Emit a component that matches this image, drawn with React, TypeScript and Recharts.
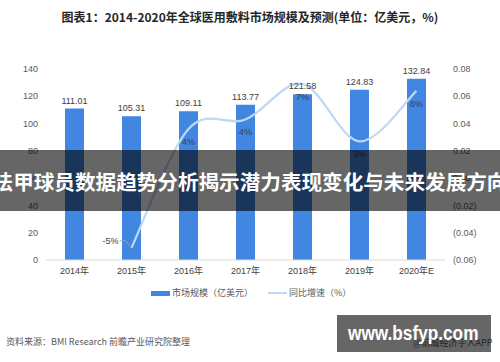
import React from "react";
import { ComposedChart, Bar, Line, XAxis, YAxis, LabelList } from "recharts";

const years = ["2014年", "2015年", "2016年", "2017年", "2018年", "2019年", "2020年E"];
const marketSize = [111.01, 105.31, 109.11, 113.77, 121.58, 124.83, 132.84];
const growth = [null, -0.051, 0.036, 0.043, 0.069, 0.027, 0.064];
const leftTicks = [0, 20, 40, 60, 80, 100, 120, 140];
const rightTicks = [-0.06, -0.04, -0.02, 0, 0.02, 0.04, 0.06, 0.08];

const data = years.map((year, i) => ({ year, size: marketSize[i], growth: growth[i] }));

const font = '"Liberation Sans", "Noto Sans CJK SC", sans-serif';
const cjk = '"Noto Sans CJK SC", "Liberation Sans", sans-serif';

const fmtRight = (v: number) => {
  const r = Math.round(v * 100) / 100;
  if (r < 0) return `(${Math.abs(r).toFixed(2)})`;
  return r.toFixed(2);
};

// Excel-like smoothed line (Catmull-Rom as cubic bezier)
function smoothCurve(context: any) {
  let pts: [number, number][] = [];
  return {
    areaStart() {},
    areaEnd() {},
    lineStart() {
      pts = [];
    },
    lineEnd() {
      const n = pts.length;
      if (!n) return;
      context.moveTo(pts[0][0], pts[0][1]);
      for (let i = 0; i < n - 1; i++) {
        const p0 = pts[Math.max(i - 1, 0)];
        const p1 = pts[i];
        const p2 = pts[i + 1];
        const p3 = pts[Math.min(i + 2, n - 1)];
        context.bezierCurveTo(
          p1[0] + (p2[0] - p0[0]) / 6,
          p1[1] + (p2[1] - p0[1]) / 6,
          p2[0] - (p3[0] - p1[0]) / 6,
          p2[1] - (p3[1] - p1[1]) / 6,
          p2[0],
          p2[1]
        );
      }
    },
    point(x: number, y: number) {
      pts.push([+x, +y]);
    },
  };
}

function GrowthLabel(props: any) {
  const { x, y, value, index } = props;
  if (value == null || x == null || y == null) return null;
  const text = `${Math.round(value * 100)}%`;
  if (index === 1) {
    return (
      <g>
        <polyline
          points={`${x - 12},${y - 7} ${x - 6},${y - 7} ${x - 1},${y - 1}`}
          fill="none"
          stroke="#a6a6a6"
          strokeWidth={0.8}
        />
        <text x={x - 13} y={y - 7} textAnchor="end" dominantBaseline="central" fontSize={9} fill="#404040" fontFamily={font}>
          {text}
        </text>
      </g>
    );
  }
  return (
    <text x={x} y={y + 13} textAnchor="middle" dominantBaseline="central" fontSize={9} fill="#404040" fontFamily={font}>
      {text}
    </text>
  );
}

export default function App() {
  return (
    <div style={{ position: "relative", width: 500, height: 362, background: "#fff", overflow: "hidden" }}>
      <style>{`body{margin:0}`}</style>
      <div
        style={{
          position: "absolute",
          top: 8,
          left: 0,
          width: 500,
          textAlign: "center",
          fontFamily: cjk,
          fontWeight: 700,
          fontSize: 12,
          color: "#262626",
        }}
      >
        图表1：2014-2020年全球医用敷料市场规模及预测(单位：亿美元，%)
      </div>

      <ComposedChart width={500} height={362} data={data} margin={{ top: 69, right: 0, bottom: 72, left: 0 }}>
        <XAxis
          dataKey="year"
          height={30}
          axisLine={{ stroke: "#d9d9d9" }}
          tickLine={false}
          tick={{ fontSize: 9, fill: "#404040", fontFamily: font }}
        />
        <YAxis
          yAxisId="left"
          width={46}
          domain={[0, 140]}
          ticks={leftTicks}
          axisLine={false}
          tickLine={false}
          tick={{ fontSize: 9, fill: "#595959", fontFamily: font }}
        />
        <YAxis
          yAxisId="right"
          orientation="right"
          width={55}
          domain={[-0.06, 0.08]}
          ticks={rightTicks}
          tickFormatter={fmtRight}
          axisLine={false}
          tickLine={false}
          tick={{ fontSize: 9, fill: "#595959", fontFamily: font }}
        />
        <Bar yAxisId="left" dataKey="size" fill="#4186e0" barSize={19} isAnimationActive={false}>
          <LabelList
            dataKey="size"
            position="top"
            offset={5}
            formatter={(v: any) => Number(v).toFixed(2)}
            style={{ fontSize: 9, fill: "#404040", fontFamily: font }}
          />
        </Bar>
        <Line
          yAxisId="right"
          dataKey="growth"
          type={smoothCurve as any}
          stroke="#bfd8f4"
          strokeWidth={2.25}
          dot={false}
          activeDot={false}
          isAnimationActive={false}
        >
          <LabelList dataKey="growth" content={GrowthLabel} />
        </Line>
      </ComposedChart>

      {/* legend */}
      <div style={{ position: "absolute", left: 151, top: 291, width: 19, height: 5, background: "#4186e0" }} />
      <div style={{ position: "absolute", left: 172, top: 287, fontSize: 9, lineHeight: "12px", color: "#595959", fontFamily: cjk }}>
        市场规模（亿美元）
      </div>
      <div style={{ position: "absolute", left: 268, top: 292, width: 19, height: 2, background: "#bfd8f4" }} />
      <div style={{ position: "absolute", left: 289, top: 287, fontSize: 9, lineHeight: "12px", color: "#595959", fontFamily: cjk }}>
        同比增速（%）
      </div>

      {/* source */}
      <div style={{ position: "absolute", left: 6, top: 336, fontSize: 9, lineHeight: "12px", color: "#595959", fontFamily: cjk }}>
        资料来源：BMI Research 前瞻产业研究院整理
      </div>
      <div style={{ position: "absolute", left: 413, top: 337, fontSize: 9, lineHeight: "12px", color: "#595959", fontFamily: cjk, whiteSpace: "nowrap" }}>
        @前瞻经济学人APP
      </div>

      {/* overlay band */}
      <div
        style={{
          position: "absolute",
          left: 0,
          top: 150,
          width: 500,
          height: 61,
          background: "rgba(0,0,0,0.6)",
          display: "flex",
          alignItems: "center",
          justifyContent: "center",
        }}
      >
        <span style={{ color: "#fff", fontWeight: 700, fontSize: 20.6, fontFamily: cjk, whiteSpace: "nowrap" }}>
          法甲球员数据趋势分析揭示潜力表现变化与未来发展方向
        </span>
      </div>

      {/* watermark box */}
      <div
        style={{
          position: "absolute",
          left: 337,
          top: 315,
          width: 154,
          height: 37,
          background: "rgba(0,0,0,0.6)",
        }}
      >
        <span
          style={{
            position: "absolute",
            left: 11,
            top: 5,
            display: "inline-block",
            color: "#fff",
            fontWeight: 700,
            fontSize: 21,
            lineHeight: "26px",
            fontFamily: font,
            whiteSpace: "nowrap",
            transform: "scaleX(0.82)",
            transformOrigin: "left center",
          }}
        >
          www.bsfyp.com
        </span>
      </div>
    </div>
  );
}
